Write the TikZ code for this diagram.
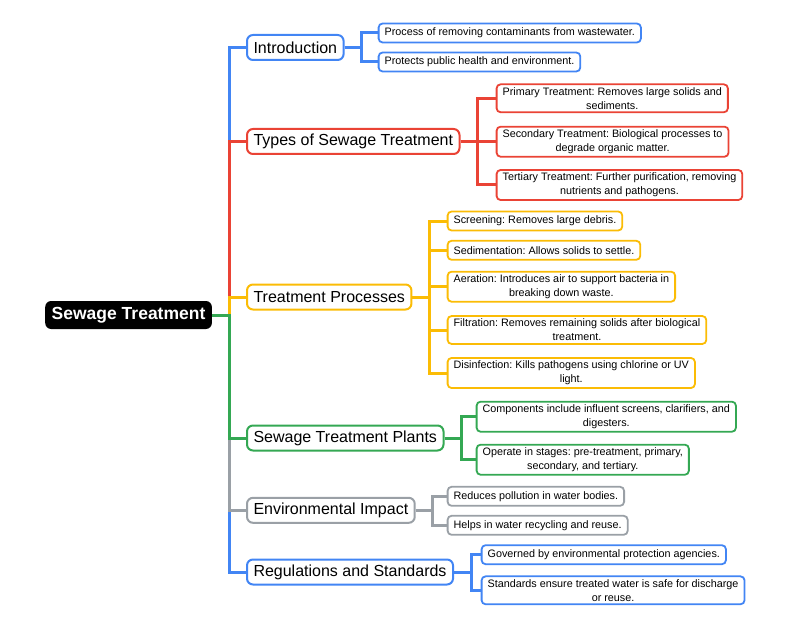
\documentclass[tikz,border=0pt]{standalone}
\usepackage{fontspec}
\setmainfont{Liberation Sans}
\usetikzlibrary{backgrounds}
\frenchspacing

\definecolor{gblue}{HTML}{4285F4}
\definecolor{gred}{HTML}{EA4335}
\definecolor{gyellow}{HTML}{FBBC05}
\definecolor{ggreen}{HTML}{34A853}
\definecolor{ggray}{HTML}{9AA0A6}

\tikzset{
	mainbox/.style={fill=black, text=white, rounded corners=6pt, inner xsep=6.5pt, minimum height=28pt, anchor=west, font=\fontsize{17.5}{21}\selectfont\bfseries},
	topicbox/.style={draw=#1, fill=white, line width=2pt, rounded corners=6pt, inner xsep=6.5pt, minimum height=25pt, anchor=west, font=\fontsize{16}{19}\selectfont},
	leafbox/.style={draw=#1, fill=white, line width=1.8pt, rounded corners=4pt, inner xsep=6pt, inner ysep=3pt, minimum height=19pt, anchor=west, align=center, font=\fontsize{10.8}{14}\selectfont},
	branch/.style={draw=#1, line width=3pt},
}

\begin{document}
\begin{tikzpicture}[x=1pt,y=-1pt]
	\useasboundingbox (0,0) rectangle (800,631);
	% centre and topics
	\node[mainbox] (sewage) at (45,315) {Sewage Treatment};
	\node[topicbox=gblue] (intro) at (246,47.5) {Introduction};
	\node[topicbox=gred] (types) at (246,141.5) {Types of Sewage Treatment};
	\node[topicbox=gyellow] (proc) at (246,297) {Treatment Processes};
	\node[topicbox=ggreen] (plant) at (246,438) {Sewage Treatment Plants};
	\node[topicbox=ggray] (env) at (246,510.3) {Environmental Impact};
	\node[topicbox=gblue] (reg) at (246,572) {Regulations and Standards};
	% details
	\node[leafbox=gblue] (intro1) at (377.7,33) {Process of removing contaminants from wastewater.};
	\node[leafbox=gblue] (intro2) at (377.7,62) {Protects public health and environment.};
	\node[leafbox=gred] (types1) at (495.7,98.3) {Primary Treatment: Removes large solids and\\sediments.};
	\node[leafbox=gred] (types2) at (495.7,141.7) {Secondary Treatment: Biological processes to\\degrade organic matter.};
	\node[leafbox=gred] (types3) at (495.7,185) {Tertiary Treatment: Further purification, removing\\nutrients and pathogens.};
	\node[leafbox=gyellow] (proc1) at (446.7,221) {Screening: Removes large debris.};
	\node[leafbox=gyellow] (proc2) at (446.7,250.3) {Sedimentation: Allows solids to settle.};
	\node[leafbox=gyellow] (proc3) at (446.7,286.7) {Aeration: Introduces air to support bacteria in\\breaking down waste.};
	\node[leafbox=gyellow] (proc4) at (446.7,330) {Filtration: Removes remaining solids after biological\\treatment.};
	\node[leafbox=gyellow] (proc5) at (446.7,373) {Disinfection: Kills pathogens using chlorine or UV\\light.};
	\node[leafbox=ggreen] (plant1) at (475.7,416.7) {Components include influent screens, clarifiers, and\\digesters.};
	\node[leafbox=ggreen] (plant2) at (475.7,459.7) {Operate in stages: pre-treatment, primary,\\secondary, and tertiary.};
	\node[leafbox=ggray] (env1) at (446.7,496.3) {Reduces pollution in water bodies.};
	\node[leafbox=ggray] (env2) at (446.7,525.3) {Helps in water recycling and reuse.};
	\node[leafbox=gblue] (reg1) at (480.7,554.7) {Governed by environmental protection agencies.};
	\node[leafbox=gblue] (reg2) at (480.7,590.3) {Standards ensure treated water is safe for discharge\\or reuse.};
	% links, behind the boxes
	\begin{pgfonlayer}{background}
		\foreach \t/\c in {intro/gblue,types/gred,proc/gyellow,reg/gblue,env/ggray,plant/ggreen} {
			\draw[branch=\c] (sewage.east) -- ++(17,0) |- (\t.west);
		}
		\foreach \t in {intro1,intro2} \draw[branch=gblue] (intro.east) -- ++(17,0) |- (\t.west);
		\foreach \t in {types1,types2,types3} \draw[branch=gred] (types.east) -- ++(17,0) |- (\t.west);
		\foreach \t in {proc1,proc2,proc3,proc4,proc5} \draw[branch=gyellow] (proc.east) -- ++(17,0) |- (\t.west);
		\foreach \t in {plant1,plant2} \draw[branch=ggreen] (plant.east) -- ++(17,0) |- (\t.west);
		\foreach \t in {env1,env2} \draw[branch=ggray] (env.east) -- ++(17,0) |- (\t.west);
		\foreach \t in {reg1,reg2} \draw[branch=gblue] (reg.east) -- ++(17,0) |- (\t.west);
	\end{pgfonlayer}
\end{tikzpicture}
\end{document}
